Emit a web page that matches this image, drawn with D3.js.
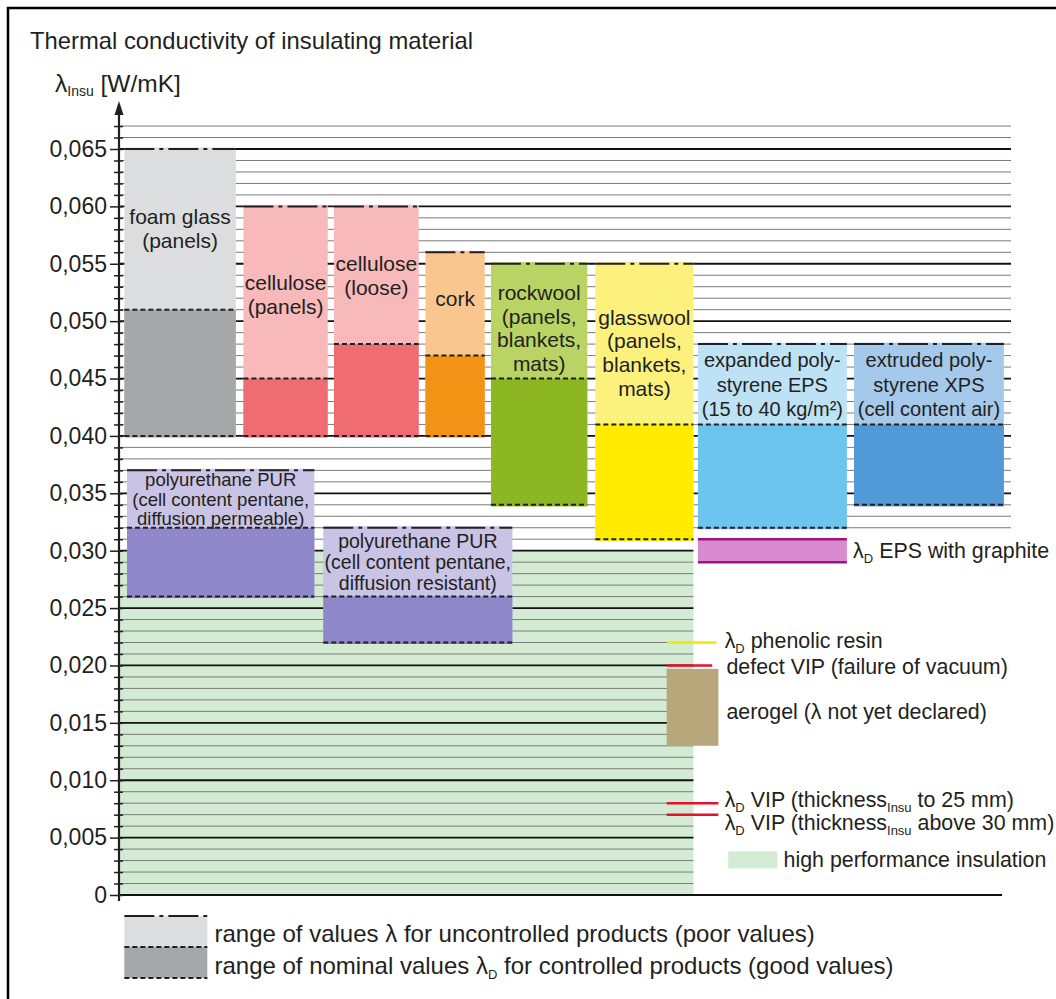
<!DOCTYPE html>
<html><head><meta charset="utf-8">
<script src="https://cdn.jsdelivr.net/npm/d3@7"></script>
<style>
body{margin:0;background:#fff}
svg{display:block;font-family:"Liberation Sans",Arial,Helvetica,sans-serif}
</style>
</head><body>
<svg id="chart" width="1056" height="999"></svg>
<script>
// ---------------- DATA ----------------
const materials = ["foam glass","cellulose panels","cellulose loose","cork","rockwool","glasswool","EPS","XPS","PUR permeable","PUR resistant"];
const labelLines = [
  ["foam glass","(panels)"],
  ["cellulose","(panels)"],
  ["cellulose","(loose)"],
  ["cork"],
  ["rockwool","(panels,","blankets,","mats)"],
  ["glasswool","(panels,","blankets,","mats)"],
  ["expanded poly-","styrene EPS","(15 to 40 kg/m²)"],
  ["extruded poly-","styrene XPS","(cell content air)"],
  ["polyurethane PUR","(cell content pentane,","diffusion permeable)"],
  ["polyurethane PUR","(cell content pentane,","diffusion resistant)"]
];
const uncontrolledMax = [0.065,0.060,0.060,0.056,0.055,0.055,0.048,0.048,0.037,0.032];
const nominalMax      = [0.051,0.045,0.048,0.047,0.045,0.041,0.041,0.041,0.032,0.026];
const rangeMin        = [0.040,0.040,0.040,0.040,0.034,0.031,0.032,0.034,0.026,0.022];
const epsGraphite = [0.029, 0.031];
const phenolicResin = 0.022;
const defectVIP = 0.020;
const aerogel = [0.013, 0.0197];
const vipTo25 = 0.008;
const vipAbove30 = 0.007;
const highPerformanceMax = 0.030;
const majorTicks = [0,0.005,0.010,0.015,0.020,0.025,0.030,0.035,0.040,0.045,0.050,0.055,0.060,0.065];
const tickLabels = ["0","0,005","0,010","0,015","0,020","0,025","0,030","0,035","0,040","0,045","0,050","0,055","0,060","0,065"];
const gridMax = 0.067;

// ---------------- LAYOUT / STYLE ----------------
const colSpan = [[0.6,13.1],[13.95,23.4],[24.1,33.6],[34.35,41.0],[41.7,52.5],[53.4,64.4],[64.9,81.6],[82.4,99.2],[0.9,21.9],[22.9,44.1]];
const lightColors = ["#dcdddf","#f7b9b9","#f7b9b9","#fac690","#b9d364","#fdf17e","#bde2f5","#a4c9ea","#c9c4e5","#c9c4e5"];
const darkColors  = ["#a5a7a9","#ee6c72","#ee6c72","#f39316","#8cb622","#ffec00","#6cc5ee","#519ad7","#8e87ca","#8e87ca"];
const labelAt   = [0.0585,0.0527,0.0544,0.0513,0.0518,0.0497,0.0460,0.0460,0.0356,0.0302];
const labelSize = [21,21,21,21,21,21,20,20,18.5,19.5];
const labelGap  = [24,24,24,24,23.5,23.7,24.5,24.5,19.5,21];
const annSize = 21.4;
const dashDot = "30,5,4,5";
const dashed = "5,3";

const svg = d3.select("#chart");
const W = 1056, H = 999;
const y = d3.scaleLinear().domain([0, 0.065]).range([895, 149]);
const x = d3.scaleLinear().domain([0, 100]).range([119, 1011]);
const ink = "#231f20";

svg.append("rect").attr("width",W).attr("height",H).attr("fill","#fff");
// frame
svg.append("rect").attr("x",8).attr("y",8).attr("width",1100).attr("height",1100)
  .attr("fill","none").attr("stroke","#000").attr("stroke-width",2.5);

// title
svg.append("text").attr("x",30).attr("y",49).attr("font-size",23.8).attr("fill",ink)
  .text("Thermal conductivity of insulating material");

// y axis label
const yl = svg.append("text").attr("x",55).attr("y",92).attr("font-size",24.5).attr("fill",ink);
yl.append("tspan").text("λ");
yl.append("tspan").attr("font-size",14).attr("dy",4).text("Insu");
yl.append("tspan").attr("dy",-4).text(" [W/mK]");

// high performance zone
svg.append("rect").attr("x",x(0)).attr("width",x(64.4)-x(0))
  .attr("y",y(highPerformanceMax)).attr("height",y(0)-y(highPerformanceMax))
  .attr("fill","#d3ebd3");

// gridlines (every 0.001)
const allTicks = d3.range(0, 68).map(i => +(i*0.001).toFixed(3));
const isMajor = v => Math.round(v*1000) % 5 === 0;
svg.append("g").selectAll("line").data(allTicks.filter(v => v>0)).join("line")
  .attr("x1", x(0)).attr("x2", v => v >= 0.0315 ? x(100) : x(64.4))
  .attr("y1", v => y(v)).attr("y2", v => y(v))
  .attr("stroke", v => isMajor(v) ? "#111" : "#7a7a7a")
  .attr("stroke-width", v => isMajor(v) ? 1.8 : 1);
// baseline
svg.append("line").attr("x1",x(0)).attr("x2",x(99.0)).attr("y1",y(0)).attr("y2",y(0))
  .attr("stroke","#111").attr("stroke-width",2);

// bars
const idx = d3.range(materials.length);
const gBars = svg.append("g");
idx.forEach(i => {
  const x0 = x(colSpan[i][0]), x1 = x(colSpan[i][1]);
  gBars.append("rect").attr("x",x0).attr("width",x1-x0)
    .attr("y",y(uncontrolledMax[i])-1.5).attr("height",y(rangeMin[i])-y(uncontrolledMax[i])+3)
    .attr("fill",lightColors[i]);
  gBars.append("rect").attr("x",x0).attr("width",x1-x0)
    .attr("y",y(nominalMax[i])).attr("height",y(rangeMin[i])-y(nominalMax[i])+1.5)
    .attr("fill",darkColors[i]);
  gBars.append("line").attr("x1",x0).attr("x2",x1).attr("y1",y(uncontrolledMax[i])).attr("y2",y(uncontrolledMax[i]))
    .attr("stroke",ink).attr("stroke-width",2).attr("stroke-dasharray",dashDot);
  [nominalMax[i], rangeMin[i]].forEach(v => {
    gBars.append("line").attr("x1",x0).attr("x2",x1).attr("y1",y(v)).attr("y2",y(v))
      .attr("stroke",ink).attr("stroke-width",2).attr("stroke-dasharray",dashed);
  });
  const t = gBars.append("text").attr("text-anchor","middle").attr("font-size",labelSize[i]).attr("fill",ink)
    .attr("x",(x0+x1)/2).attr("y",y(labelAt[i]));
  labelLines[i].forEach((s,k) => {
    t.append("tspan").attr("x",(x0+x1)/2).attr("dy",k===0?0:labelGap[i]).text(s);
  });
});

// EPS with graphite
const gx0 = x(colSpan[6][0]), gx1 = x(colSpan[6][1]);
svg.append("rect").attr("x",gx0).attr("width",gx1-gx0).attr("y",y(epsGraphite[1])).attr("height",y(epsGraphite[0])-y(epsGraphite[1]))
  .attr("fill","#d98bcf");
[epsGraphite[0], epsGraphite[1]].forEach(v => svg.append("line").attr("x1",gx0).attr("x2",gx1).attr("y1",y(v)).attr("y2",y(v))
  .attr("stroke","#a3127f").attr("stroke-width",2.5));

function annLabel(xu, v, parts, shift){
  const t = svg.append("text").attr("x",x(xu)).attr("y",y(v)+(shift||0)).attr("dy","0.35em").attr("font-size",annSize).attr("fill",ink);
  let pending = false;
  parts.forEach(p => {
    if (typeof p === "string") {
      const s = t.append("tspan").text(p);
      if (pending) { s.attr("dy",-5); pending = false; }
    } else { t.append("tspan").attr("font-size",13).attr("dy",5).text(p.sub); pending = true; }
  });
  return t;
}
annLabel(82.3, 0.0300, ["λ",{sub:"D"}," EPS with graphite"]);

// aerogel
svg.append("rect").attr("x",x(61.4)).attr("width",x(67.2)-x(61.4)).attr("y",y(aerogel[1])).attr("height",y(aerogel[0])-y(aerogel[1]))
  .attr("fill","#b8a77b");
// marker lines
svg.append("line").attr("x1",x(61.4)).attr("x2",x(67.0)).attr("y1",y(phenolicResin)).attr("y2",y(phenolicResin)).attr("stroke","#f3e600").attr("stroke-width",2.5);
svg.append("line").attr("x1",x(61.4)).attr("x2",x(66.5)).attr("y1",y(defectVIP)).attr("y2",y(defectVIP)).attr("stroke","#e8102a").attr("stroke-width",2.5);
[vipTo25, vipAbove30].forEach(v => svg.append("line").attr("x1",x(61.4)).attr("x2",x(67.2)).attr("y1",y(v)).attr("y2",y(v)).attr("stroke","#e8102a").attr("stroke-width",2.5));

annLabel(67.9, phenolicResin, ["λ",{sub:"D"}," phenolic resin"], -1.5);
annLabel(68.1, defectVIP, ["defect VIP (failure of vacuum)"], 1);
annLabel(68.1, 0.0160, ["aerogel (λ not yet declared)"]);
annLabel(67.9, 0.0083, ["λ",{sub:"D"}," VIP (thickness",{sub:"Insu"}," to 25 mm)"]);
annLabel(67.9, 0.0063, ["λ",{sub:"D"}," VIP (thickness",{sub:"Insu"}," above 30 mm)"]);
svg.append("rect").attr("x",x(68.3)).attr("width",x(73.8)-x(68.3)).attr("y",y(0.0031)-8).attr("height",17).attr("fill","#d3ebd3");
annLabel(74.5, 0.0031, ["high performance insulation"]);

// axis
const fmtTick = d => tickLabels[majorTicks.findIndex(m => Math.abs(m-d)<1e-9)];
const axMajor = svg.append("g").attr("transform",`translate(${x(0)},0)`)
  .call(d3.axisLeft(y).tickValues(majorTicks).tickSizeInner(9).tickSizeOuter(0).tickPadding(3).tickFormat(fmtTick));
axMajor.select(".domain").remove();
axMajor.selectAll("text").attr("font-size",23).attr("fill",ink).attr("font-family","Liberation Sans, Arial, sans-serif");
axMajor.selectAll(".tick line").attr("stroke",ink).attr("stroke-width",1.5);
const axMinor = svg.append("g").attr("transform",`translate(${x(0)},0)`)
  .call(d3.axisLeft(y).tickValues(allTicks.filter(v=>!isMajor(v))).tickSizeInner(5).tickSizeOuter(0).tickFormat(""));
axMinor.select(".domain").remove();
axMinor.selectAll(".tick line").attr("stroke",ink).attr("stroke-width",1.5);
const axRight = svg.append("g").attr("transform",`translate(${x(0)},0)`)
  .call(d3.axisRight(y).tickValues(allTicks).tickSizeInner(4).tickSizeOuter(0).tickFormat(""));
axRight.select(".domain").remove();
axRight.selectAll(".tick line").attr("stroke",ink).attr("stroke-width",1.5);
// axis line with arrow
const tipY = y(gridMax) - 25;
svg.append("line").attr("x1",x(0)).attr("x2",x(0)).attr("y1",y(0)+6).attr("y2",tipY+8).attr("stroke",ink).attr("stroke-width",2.2);
svg.append("path").attr("d",`M${x(0)},${tipY} L${x(0)-4.5},${tipY+14} L${x(0)+4.5},${tipY+14} Z`).attr("fill",ink);

// bottom legend
const lx0 = x(0.6), lx1 = x(9.9);
svg.append("rect").attr("x",lx0).attr("width",lx1-lx0).attr("y",916).attr("height",31).attr("fill","#dcdddf");
svg.append("rect").attr("x",lx0).attr("width",lx1-lx0).attr("y",947).attr("height",31).attr("fill","#a5a7a9");
svg.append("line").attr("x1",lx0).attr("x2",lx1).attr("y1",916).attr("y2",916).attr("stroke",ink).attr("stroke-width",2).attr("stroke-dasharray",dashDot);
[947,978].forEach(yy => svg.append("line").attr("x1",lx0).attr("x2",lx1).attr("y1",yy).attr("y2",yy).attr("stroke",ink).attr("stroke-width",2).attr("stroke-dasharray",dashed));
svg.append("text").attr("x",x(10.7)).attr("y",942).attr("font-size",24).attr("fill",ink)
  .text("range of values λ for uncontrolled products (poor values)");
const l2 = svg.append("text").attr("x",x(10.7)).attr("y",974).attr("font-size",24).attr("fill",ink);
l2.append("tspan").text("range of nominal values λ");
l2.append("tspan").attr("font-size",13).attr("dy",5).text("D");
l2.append("tspan").attr("dy",-5).text(" for controlled products (good values)");
</script>
</body></html>
